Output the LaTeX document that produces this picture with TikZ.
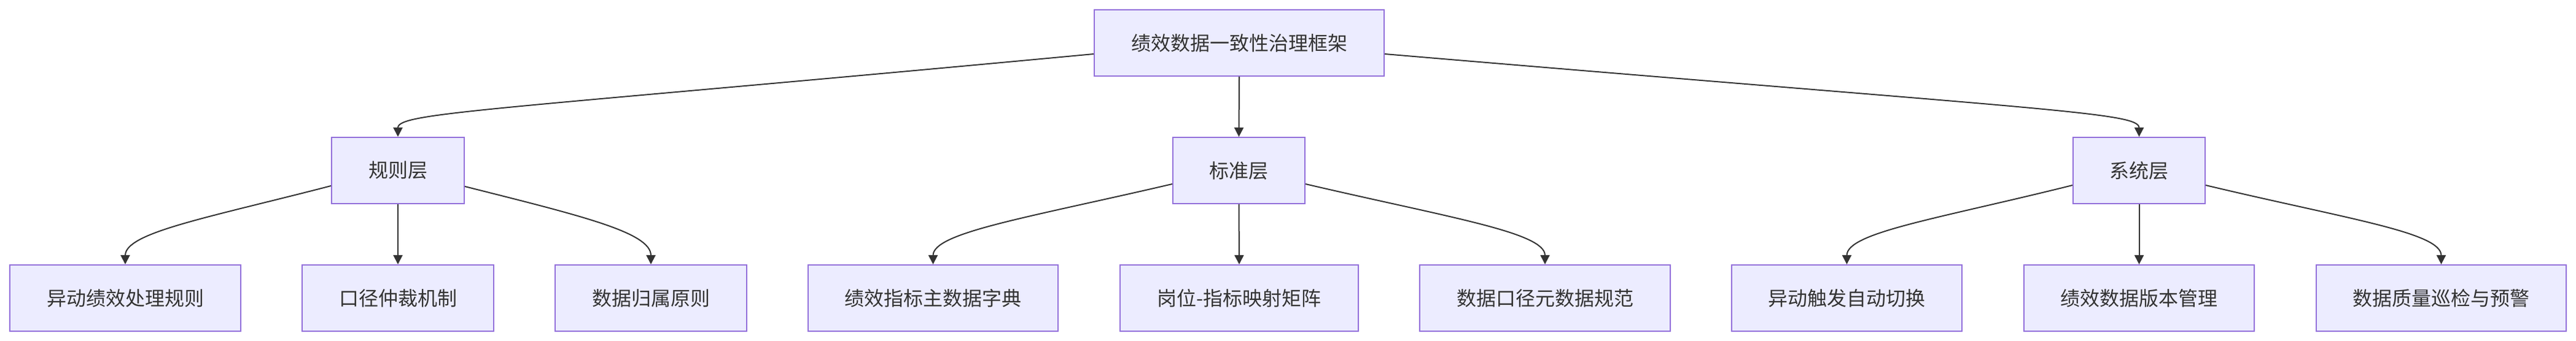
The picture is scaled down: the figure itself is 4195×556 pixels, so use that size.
\documentclass[tikz,border=0pt]{standalone}
\usepackage{fontspec}
\setmainfont{Noto Sans CJK SC}
\usetikzlibrary{arrows.meta}
\definecolor{nodefill}{HTML}{ECECFF}
\definecolor{nodeborder}{HTML}{9370DB}
\definecolor{edgecol}{HTML}{333333}
\definecolor{textcol}{HTML}{333333}
\begin{document}
\begin{tikzpicture}[x=1pt,y=-1pt,
  box/.style={draw=nodeborder, fill=nodefill, line width=2pt, text=textcol,
    minimum height=108pt, inner sep=0pt, font=\fontsize{32pt}{38pt}\selectfont},
  edge/.style={draw=edgecol, line width=2pt, -{Triangle[length=15pt,width=15pt]}}]
\useasboundingbox (0,0) rectangle (4195,556);
% top
\node[box, minimum width=472pt] (root) at (2018,70) {绩效数据一致性治理框架};
% layers
\node[box, minimum width=216pt] (rule) at (648,278) {规则层};
\node[box, minimum width=215pt] (std) at (2017.5,278) {标准层};
\node[box, minimum width=215pt] (sys) at (3483.5,278) {系统层};
% leaves
\node[box, minimum width=376pt] (r1) at (204,486) {异动绩效处理规则};
\node[box, minimum width=312pt] (r2) at (648,486) {口径仲裁机制};
\node[box, minimum width=312pt] (r3) at (1060,486) {数据归属原则};
\node[box, minimum width=407pt] (s1) at (1519.5,486) {绩效指标主数据字典};
\node[box, minimum width=388pt] (s2) at (2018,486) {岗位-指标映射矩阵};
\node[box, minimum width=408pt] (s3) at (2516,486) {数据口径元数据规范};
\node[box, minimum width=375pt] (y1) at (3007.5,486) {异动触发自动切换};
\node[box, minimum width=375pt] (y2) at (3483.5,486) {绩效数据版本管理};
\node[box, minimum width=407pt] (y3) at (3975.5,486) {数据质量巡检与预警};
% edges from root
\draw[edge] ([yshift=-18pt]root.west) .. controls +(-980,92) and +(0,-40) .. (rule.north);
\draw[edge] (root.south) -- (std.north);
\draw[edge] ([yshift=-18pt]root.east) .. controls +(1085,92) and +(0,-40) .. (sys.north);
% rule layer
\draw[edge] ([yshift=-25pt]rule.west) .. controls +(-200,52) and +(0,-52) .. (r1.north);
\draw[edge] (rule.south) -- (r2.north);
\draw[edge] ([yshift=-26pt]rule.east) .. controls +(190,48) and +(0,-52) .. (r3.north);
% standard layer
\draw[edge] ([yshift=-22pt]std.west) .. controls +(-235,55) and +(0,-52) .. (s1.north);
\draw[edge] (std.south) -- (s2.north);
\draw[edge] ([yshift=-22pt]std.east) .. controls +(235,55) and +(0,-52) .. (s3.north);
% system layer
\draw[edge] ([yshift=-24pt]sys.west) .. controls +(-220,55) and +(0,-52) .. (y1.north);
\draw[edge] (sys.south) -- (y2.north);
\draw[edge] ([yshift=-24pt]sys.east) .. controls +(230,55) and +(0,-52) .. (y3.north);
\end{tikzpicture}
\end{document}
